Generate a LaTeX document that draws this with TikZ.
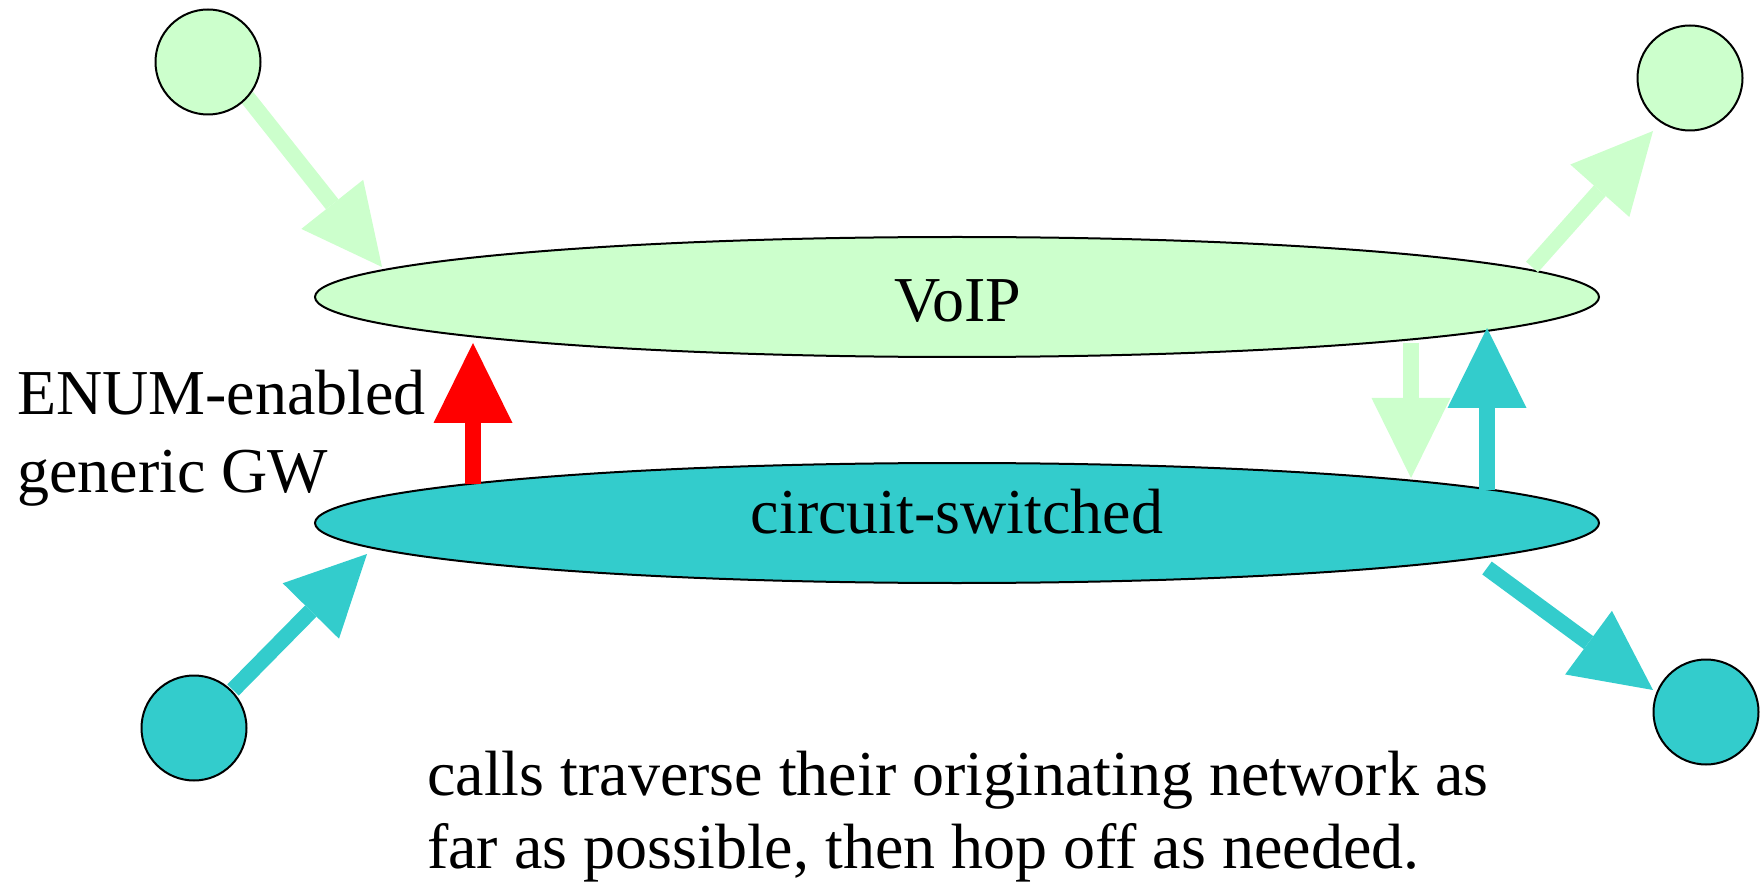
\documentclass[tikz,border=0pt]{standalone}
\usepackage{fontspec}
\setmainfont{Liberation Serif}
\usetikzlibrary{shapes.geometric,arrows.meta}
\definecolor{voipgreen}{HTML}{CCFFCC}
\definecolor{pstncyan}{HTML}{33CCCC}
\definecolor{gwred}{HTML}{FF0000}
\tikzset{
  net/.style={ellipse, draw=black, line width=2pt, minimum width=1284pt, minimum height=120pt, inner sep=0pt},
  phone/.style={circle, draw=black, line width=2pt, minimum size=105pt, inner sep=0pt},
  fatarrow/.style={line width=16pt, -{Triangle[length=80pt,width=79pt,line width=0pt]}},
  txt/.style={font=\fontsize{64}{76}\selectfont, inner sep=0pt, anchor=base west},
  nettxt/.style={font=\fontsize{64}{76}\selectfont, inner sep=0pt, anchor=base}
}
\begin{document}
\begin{tikzpicture}[x=1pt,y=-1pt]
\useasboundingbox (0,0) rectangle (1762,882);

% the two networks
\node[net, fill=voipgreen] (voip) at (957,297) {};
\node[net, fill=pstncyan] (pstn) at (957,523) {};
\node[nettxt] (voiplbl) at (958,322) {VoIP};
\node[nettxt] (pstnlbl) at (957,533) {circuit-switched};

% arrow end points
\coordinate (tlS) at (247,97);   \coordinate (tlE) at (382,267);
\coordinate (trS) at (1532,267); \coordinate (trE) at (1653,131);
\coordinate (blS) at (233,690);  \coordinate (blE) at (367,554);
\coordinate (brS) at (1487,568); \coordinate (brE) at (1653,690);
\coordinate (gwS) at (473,484);  \coordinate (gwE) at (473,343);
\coordinate (dnS) at (1411,343); \coordinate (dnE) at (1411,478);
\coordinate (upS) at (1487,490); \coordinate (upE) at (1487,328);

% call paths
\draw[fatarrow, voipgreen] (tlS) -- (tlE);
\draw[fatarrow, voipgreen] (trS) -- (trE);
\draw[fatarrow, pstncyan] (blS) -- (blE);
\draw[fatarrow, pstncyan] (brS) -- (brE);
\draw[fatarrow, gwred] (gwS) -- (gwE);
\draw[fatarrow, voipgreen] (dnS) -- (dnE);
\draw[fatarrow, pstncyan] (upS) -- (upE);

% end points
\node[phone, fill=voipgreen] (tl) at (208,62) {};
\node[phone, fill=voipgreen] (tr) at (1690,78) {};
\node[phone, fill=pstncyan] (bl) at (194,728) {};
\node[phone, fill=pstncyan] (br) at (1706,712) {};

% captions
\node[txt] (gw1) at (17,414) {ENUM-enabled};
\node[txt] (gw2) at (17,492) {generic GW};
\node[txt] (note1) at (427,795) {calls traverse their originating network as};
\node[txt] (note2) at (427,868) {far as possible, then hop off as needed.};
\end{tikzpicture}
\end{document}
